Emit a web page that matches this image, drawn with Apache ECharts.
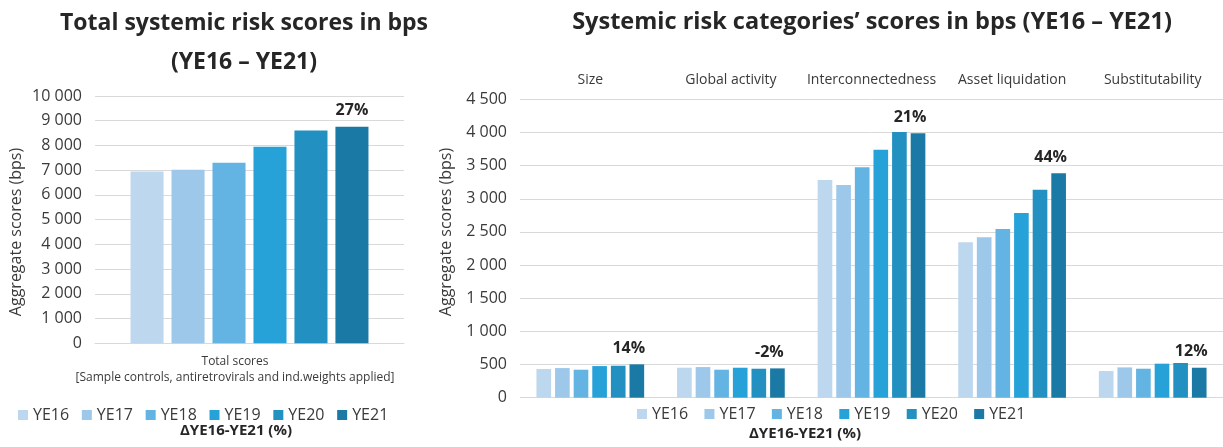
<!DOCTYPE html>
<html>
<head>
<meta charset="utf-8">
<script src="https://cdn.jsdelivr.net/npm/echarts@6/dist/echarts.min.js"></script>
<style>
html,body{margin:0;padding:0;background:#fff;}
#chart{width:1223px;height:447px;}
</style>
</head>
<body>
<div id="chart"></div>
<script>
// ---- data ----
const years = ['YE16', 'YE17', 'YE18', 'YE19', 'YE20', 'YE21'];
const totalCategory = ['Total scores\n[Sample controls, antiretrovirals and ind.weights applied]'];
const totalScores = [6950, 7020, 7300, 7950, 8600, 8760]; // one value per year
const totalPct = ['27%'];
const categories = ['Size', 'Global activity', 'Interconnectedness', 'Asset liquidation', 'Substitutability'];
const catYE16 = [432, 452, 3283, 2343, 402];
const catYE17 = [447, 462, 3208, 2418, 457];
const catYE18 = [422, 422, 3474, 2544, 437];
const catYE19 = [477, 452, 3740, 2785, 513];
const catYE20 = [482, 437, 4007, 3137, 523];
const catYE21 = [503, 442, 3987, 3384, 452];
const catPct = ['14%', '-2%', '21%', '44%', '12%'];
const leftTicks = { min: 0, max: 10000, interval: 1000 };
const rightTicks = { min: 0, max: 4500, interval: 500 };

// ---- styles ----
const colors = ['#BDD7EE', '#9DC8EA', '#63B4E2', '#27A2D8', '#2290C0', '#1B79A5'];
const FONT = '"Open Sans", "Liberation Sans", sans-serif';
const TXT = '#3a3a3a';
const DARK = '#262626';
const fmt = v => String(v).replace(/\B(?=(\d{3})+(?!\d))/g, ' ');

const catSeries = [catYE16, catYE17, catYE18, catYE19, catYE20, catYE21];

const series = [];
years.forEach((y, i) => {
  series.push({
    name: y, type: 'bar', xAxisIndex: 0, yAxisIndex: 0,
    data: [totalScores[i]],
    itemStyle: { color: colors[i] },
    barGap: '24%', barCategoryGap: '23%',
    label: i === years.length - 1 ? {
      show: true, position: 'top', distance: 8,
      formatter: p => totalPct[p.dataIndex],
      fontFamily: FONT, fontSize: 16, fontWeight: 'bold', color: DARK
    } : { show: false }
  });
});
years.forEach((y, i) => {
  series.push({
    name: y, type: 'bar', xAxisIndex: 1, yAxisIndex: 1,
    data: catSeries[i],
    itemStyle: { color: colors[i] },
    barGap: '27%', barCategoryGap: '23.4%',
    label: i === years.length - 1 ? {
      show: true, position: 'top', distance: 8, offset: [-8, 0],
      formatter: p => catPct[p.dataIndex],
      fontFamily: FONT, fontSize: 16, fontWeight: 'bold', color: DARK
    } : { show: false }
  });
});

const chart = echarts.init(document.getElementById('chart'), null, { renderer: 'canvas' });
chart.setOption({
  animation: false,
  backgroundColor: '#fff',
  textStyle: { fontFamily: FONT },
  title: [
    { text: 'Total systemic risk scores in bps\n(YE16 – YE21)', left: 244, top: 4, padding: 0, textAlign: 'center',
      textStyle: { fontFamily: FONT, fontSize: 23, fontWeight: 'bold', color: DARK, lineHeight: 39 } },
    { text: 'Systemic risk categories’ scores in bps (YE16 – YE21)', left: 872, top: 6, padding: 0, textAlign: 'center',
      textStyle: { fontFamily: FONT, fontSize: 23.5, fontWeight: 'bold', color: DARK, lineHeight: 32 } },
    { text: 'ΔYE16-YE21 (%)', left: 236, top: 422, padding: 0, textAlign: 'center',
      textStyle: { fontFamily: FONT, fontSize: 15, fontWeight: 'bold', color: DARK, lineHeight: 18 } },
    { text: 'ΔYE16-YE21 (%)', left: 805, top: 425, padding: 0, textAlign: 'center',
      textStyle: { fontFamily: FONT, fontSize: 15, fontWeight: 'bold', color: DARK, lineHeight: 18 } }
  ],
  legend: [
    { data: years, left: 18, top: 407, padding: 0, icon: 'rect', itemWidth: 10, itemHeight: 10, itemGap: 12.7,
      textStyle: { fontFamily: FONT, fontSize: 16, color: TXT }, selectedMode: false },
    { data: years, left: 637, top: 406, padding: 0, icon: 'rect', itemWidth: 10, itemHeight: 10, itemGap: 16.3,
      textStyle: { fontFamily: FONT, fontSize: 16, color: TXT }, selectedMode: false }
  ],
  grid: [
    { left: 95, top: 96, width: 309, height: 247.3, containLabel: false },
    { left: 520, top: 99.3, width: 705, height: 298.4, containLabel: false }
  ],
  xAxis: [
    { type: 'category', gridIndex: 0, data: totalCategory,
      axisLine: { show: true, lineStyle: { color: '#D9D9D9' } }, axisTick: { show: false },
      axisLabel: { interval: 0, margin: 10, fontFamily: FONT, fontSize: 12, color: TXT, lineHeight: 16, padding: [0, 29, 0, 0] } },
    { type: 'category', gridIndex: 1, data: categories, position: 'top',
      axisLine: { show: false }, axisTick: { show: false },
      axisLabel: { interval: 0, margin: 12, fontFamily: FONT, fontSize: 14, color: TXT } }
  ],
  yAxis: [
    { type: 'value', gridIndex: 0, min: leftTicks.min, max: leftTicks.max, interval: leftTicks.interval,
      axisLine: { show: false }, axisTick: { show: false },
      splitLine: { lineStyle: { color: '#D9D9D9' } },
      axisLabel: { margin: 13, fontFamily: FONT, fontSize: 16, color: TXT, formatter: fmt } },
    { type: 'value', gridIndex: 1, min: rightTicks.min, max: rightTicks.max, interval: rightTicks.interval,
      axisLine: { show: false }, axisTick: { show: false },
      splitLine: { lineStyle: { color: '#D9D9D9' } },
      axisLabel: { margin: 13, fontFamily: FONT, fontSize: 16, color: TXT, formatter: fmt } }
  ],
  graphic: [
    { type: 'text', x: 16, y: 232, rotation: Math.PI / 2,
      style: { text: 'Aggregate scores (bps)', font: '16px ' + FONT, fill: TXT, textAlign: 'center', textVerticalAlign: 'middle' } },
    { type: 'text', x: 446, y: 232, rotation: Math.PI / 2,
      style: { text: 'Aggregate scores (bps)', font: '16px ' + FONT, fill: TXT, textAlign: 'center', textVerticalAlign: 'middle' } }
  ],
  series: series
});
</script>
</body>
</html>
